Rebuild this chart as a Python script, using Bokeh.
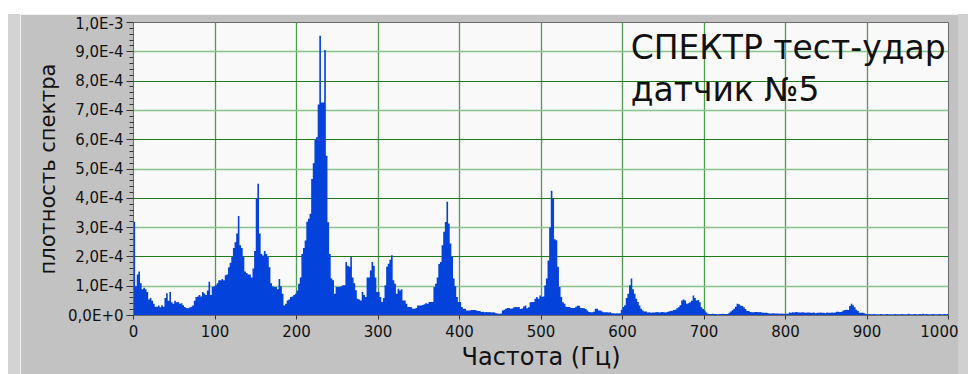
import numpy as np
from bokeh.plotting import figure
from bokeh.models import FixedTicker, CustomJSTickFormatter, Grid, Label, Spacer
from bokeh.layouts import column, row
from bokeh.embed import file_html
from bokeh.resources import INLINE

# spectral density per 2 Hz bin (bin start frequency = index*2 Hz), units of 1e-5
bin_width_hz = 2
density_0_200 = [
    32, 10, 14, 15, 11, 9, 9.5, 9, 8, 5.5,
    6, 5, 4, 3, 3, 3.4, 2.8, 3.5, 3, 6,
    7.6, 5, 8, 4.5, 4, 5, 4.5, 4.6, 4, 4.2,
    3.5, 2.9, 2.6, 2.5, 2.7, 3, 3.4, 5, 6.3, 6.5,
    7, 6.5, 8, 7.5, 7, 8.5, 11.5, 7, 9.7, 10,
    10.3, 11, 12, 12, 12.5, 12, 13.7, 14, 16.5, 18,
    20, 23, 25, 28, 34, 24, 23, 20, 15, 14.5,
    14, 14, 13, 16, 22, 40, 45, 28, 21, 20.5,
    22, 21, 20, 16.5, 11, 10, 9.7, 9.7, 9, 12.5,
    10, 7.4, 3.4, 4, 5.1, 5.5, 6.3, 6.5, 7, 7.4,
]
density_200_400 = [
    8.5, 10.8, 13, 21, 23, 25.6, 32, 33, 34.7, 46.6,
    52, 60, 60.8, 72, 95.5, 72.7, 72.7, 90.6, 54.5, 31.8,
    21, 12.6, 12, 7.4, 9.7, 9.7, 9.7, 10, 10.3, 10.3,
    18.3, 17, 16.6, 20, 13, 11, 8.6, 5.7, 5.5, 5.1,
    8, 7, 6.3, 13, 13, 15.4, 18.3, 17, 13, 8,
    8, 6.3, 4.6, 6, 10.3, 16.6, 17.7, 19, 20.6, 12,
    10.8, 7.4, 9.1, 8.5, 9, 5.1, 5.1, 4, 2.9, 2.9,
    2.8, 2.3, 2.3, 2.6, 3.4, 3.4, 3.4, 3.6, 3.8, 4.2,
    4, 4.6, 4.6, 4.6, 9.7, 10.8, 13, 17.6, 18.3, 24,
    28.6, 31.9, 38.8, 31.4, 24.6, 20, 12.6, 10, 6.3, 4.6,
]
density_400_600 = [
    4.6, 2.9, 2.3, 2.3, 1.7, 1.7, 1.7, 1.9, 1.9, 1.9,
    1.7, 1.5, 1.5, 1.2, 1.3, 1.1, 1.2, 1.1, 1.2, 1.0,
    1.1, 1.0, 0.8, 0.7, 0.6, 0.7, 1.7, 2.0, 2.3, 2.6,
    2.6, 2.3, 2.4, 2.8, 2.9, 2.8, 2.9, 2.2, 2.4, 3.1,
    3.4, 2.5, 2.8, 4.5, 4.6, 4.6, 5.7, 6.3, 5.7, 6.8,
    6.3, 6.5, 10.2, 12.6, 18.8, 30, 42.6, 40, 26, 25.7,
    16.6, 9.7, 6.3, 4.5, 4, 3, 2.9, 2.9, 2.6, 2.6,
    2.6, 3, 3.3, 3.3, 2.6, 2.6, 2.5, 2.2, 1.7, 1.2,
    1.1, 1.1, 1.3, 2.3, 2.3, 1.7, 1.7, 1.4, 1.1, 1.1,
    1.1, 1.0, 1.1, 0.8, 0.8, 0.7, 0.8, 0.7, 0.8, 2.0,
]
density_600_800 = [
    2.9, 3.5, 6, 7.4, 10.3, 12.6, 9, 7.4, 5.7, 4.6,
    3.4, 2.3, 1.7, 1.4, 1.4, 1.0, 1.1, 0.9, 1.0, 1.0,
    1.1, 1.2, 1.0, 1.1, 1.2, 1.1, 1.0, 1.2, 1.4, 1.5,
    1.6, 1.9, 2.0, 2.5, 2.8, 3.5, 5.1, 5.5, 5.1, 4,
    4.2, 4.5, 5, 6.8, 6, 5.1, 5.3, 4.5, 2.8, 2.2,
    1.7, 1.0, 0.6, 0.5, 0.5, 0.6, 0.5, 0.5, 0.4, 0.5,
    0.5, 0.6, 0.5, 0.5, 0.5, 0.9, 1.4, 1.8, 2.3, 3,
    4, 3.8, 3.4, 3.2, 2.8, 2.2, 1.5, 1.5, 1.2, 1.1,
    1.1, 1.2, 1.2, 1.1, 1.2, 1.0, 0.9, 0.9, 0.9, 0.8,
    0.7, 0.7, 0.8, 0.7, 0.7, 0.7, 0.6, 0.7, 0.6, 0.6,
]
density_800_1000 = [
    0.6, 0.6, 1.0, 0.9, 1.1, 1.0, 1.2, 1.1, 1.0, 1.0,
    1.1, 1.0, 0.9, 1.0, 1.0, 0.9, 0.9, 1.0, 0.8, 0.9,
    0.9, 1.0, 0.9, 0.9, 0.8, 1.0, 0.9, 0.9, 1.0, 0.9,
    1.0, 1.25, 1.3, 1.2, 1.3, 1.7, 1.9, 2.0, 1.9, 3.2,
    4, 3.5, 2.8, 2, 1.5, 0.9, 0.9, 0.9, 0.8, 0.5,
    0.45, 0.5, 0.4, 0.45, 0.5, 0.45, 0.4, 0.45, 0.5, 0.45,
    0.4, 0.45, 0.5, 0.45, 0.45, 0.4, 0.45, 0.5, 0.45, 0.4,
    0.45, 0.5, 0.45, 0.4, 0.45, 0.6, 0.45, 0.4, 0.45, 0.5,
    0.45, 0.4, 0.5, 0.45, 0.6, 0.45, 0.5, 0.4, 0.45, 0.45,
    0.5, 0.45, 0.4, 0.45, 0.5, 0.45, 0.4, 0.5, 0.45, 0.5,
]

x_ticks = [0, 100, 200, 300, 400, 500, 600, 700, 800, 900, 1000]
y_ticks = [0.0, 1e-4, 2e-4, 3e-4, 4e-4, 5e-4, 6e-4, 7e-4, 8e-4, 9e-4, 1e-3]
y_tick_labels = ["0,0E+0", "1,0E-4", "2,0E-4", "3,0E-4", "4,0E-4", "5,0E-4",
                 "6,0E-4", "7,0E-4", "8,0E-4", "9,0E-4", "1,0E-3"]
title_lines = ["СПЕКТР тест-удар", "датчик №5"]
x_title = "Частота (Гц)"
y_title = "плотность спектра"

density = np.array(density_0_200 + density_200_400 + density_400_600
                   + density_600_800 + density_800_1000) * 1e-5
freq = np.arange(len(density)) * bin_width_hz
xs = np.append(freq, freq[-1] + bin_width_hz)
ys = np.append(density, density[-1])

FONT = "DejaVu Sans"
p = figure(output_backend="svg", toolbar_location=None,
           frame_width=815, frame_height=293,
           min_border_left=113, min_border_right=10,
           min_border_top=8, min_border_bottom=59,
           x_range=(0, 1000), y_range=(0, 1e-3))
p.background_fill_color = "#f9f9f9"
p.border_fill_color = "#c2c2c2"
p.outline_line_color = "#6a6a6a"

p.varea_step(x=xs, y1=np.zeros(len(ys)), y2=ys, step_mode="after",
             fill_color="#0343db")

# grids
p.xgrid.ticker = FixedTicker(ticks=x_ticks[1:-1])
p.xgrid.grid_line_color = "#4f9a4f"
p.xgrid.grid_line_width = 1.3
p.ygrid.ticker = FixedTicker(ticks=y_ticks[2:-1:2])
p.ygrid.grid_line_color = "#1f7a1f"
p.ygrid.grid_line_width = 1.2
odd_grid = Grid(dimension=1, ticker=FixedTicker(ticks=y_ticks[1:-1:2]),
                grid_line_color="#8cc28c", grid_line_width=1.6)
p.add_layout(odd_grid)

# axes
minor = [i * 2e-5 for i in range(51) if i % 5]
p.yaxis.ticker = FixedTicker(ticks=y_ticks, minor_ticks=minor)
p.yaxis.formatter = CustomJSTickFormatter(args=dict(labels=y_tick_labels),
                                          code="return labels[Math.round(tick*1e4)];")
p.xaxis.ticker = FixedTicker(ticks=x_ticks)
for ax in (p.xaxis[0], p.yaxis[0]):
    ax.axis_line_color = "#6a6a6a"
    ax.major_tick_line_color = "#333333"
    ax.minor_tick_line_color = "#333333"
    ax.major_tick_in = 0
    ax.minor_tick_in = 0
    ax.major_label_text_font = FONT
    ax.major_label_text_font_size = "15px"
    ax.major_label_text_color = "#111111"
    ax.axis_label_text_font = FONT
    ax.axis_label_text_font_style = "normal"
    ax.axis_label_text_color = "#111111"
p.yaxis.major_tick_out = 7
p.yaxis.minor_tick_out = 4
p.yaxis.major_label_standoff = 3
p.yaxis.axis_label = y_title
p.yaxis.axis_label_text_font_size = "21px"
p.yaxis.axis_label_standoff = 5
p.xaxis.major_tick_out = 4
p.xaxis.minor_tick_line_color = None
p.xaxis.major_label_standoff = 5
p.xaxis.axis_label = x_title
p.xaxis.axis_label_text_font_size = "24px"
p.xaxis.axis_label_standoff = 3

p.add_layout(Label(x=610, y=9.13e-4, text=title_lines[0], text_font=FONT,
                   text_font_size="33px", text_color="#111111",
                   text_baseline="alphabetic"))
p.add_layout(Label(x=610, y=7.70e-4, text=title_lines[1], text_font=FONT,
                   text_font_size="33px", text_color="#111111",
                   text_baseline="alphabetic"))

strip_left = Spacer(width=12, height=360, styles={"background-color": "#d3d3d3"})
strip_right = Spacer(width=10, height=360, styles={"background-color": "#d0d0d0"})
layout = column(Spacer(height=14),
                row(Spacer(width=8), strip_left, p, strip_right))
open("out.html", "w").write(file_html(layout, INLINE))
